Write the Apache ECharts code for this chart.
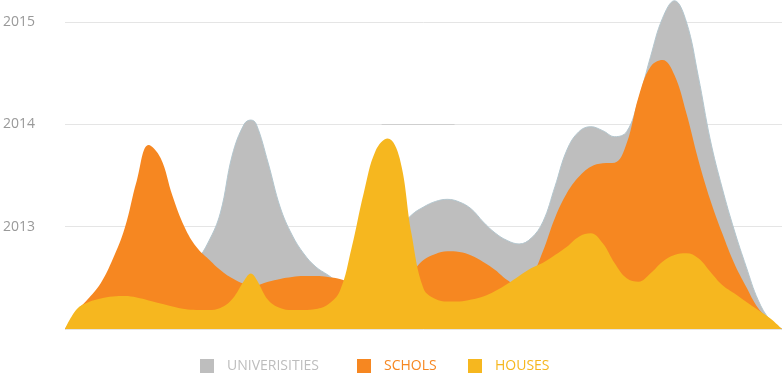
<!DOCTYPE html>
<html>
<head>
<meta charset="utf-8">
<script src="https://cdn.jsdelivr.net/npm/echarts@6/dist/echarts.min.js"></script>
<style>
html,body{margin:0;padding:0;background:#fff;}
#chart{width:782px;height:374px;}
</style>
</head>
<body>
<div id="chart"></div>
<script>
// ---- data ----
var seriesNames = ['UNIVERISITIES', 'SCHOLS', 'HOUSES'];
var yTicks = [2013, 2014, 2015];

// shared x positions (time steps)
var xs = [0,1,2,3,4,5,6,7,8,9,10,11,12,13,14,15,15.55,16,17,18,19,20,21,22,23,24,25,26,27,28,29,30,31,32,33,34,35,36,37,38,39,40,41,42,43,44,45,46,47,48,49,50,51,52,53,54,55,56,57,58,59,60];

var universities = [2012,2012.068,2012.127,2012.186,2012.244,2012.303,2012.362,2012.420,2012.479,2012.537,2012.606,2012.674,2012.850,2013.134,2013.700,2014.003,2014.042,2014.003,2013.622,2013.192,2012.919,2012.733,2012.606,2012.528,2012.450,2012.401,2012.459,2012.616,2012.801,2012.977,2013.114,2013.192,2013.246,2013.267,2013.241,2013.173,2013.046,2012.938,2012.865,2012.831,2012.886,2013.049,2013.391,2013.749,2013.928,2013.977,2013.938,2013.879,2013.928,2014.238,2014.661,2015.036,2015.208,2015.000,2014.466,2013.847,2013.375,2012.967,2012.609,2012.283,2012.088,2012];

var schools = [2012,2012.176,2012.303,2012.450,2012.684,2012.987,2013.446,2013.798,2013.671,2013.300,2012.997,2012.801,2012.684,2012.577,2012.495,2012.440,2012.430,2012.430,2012.462,2012.489,2012.508,2012.518,2012.518,2012.508,2012.489,2012.450,2012.420,2012.410,2012.430,2012.479,2012.557,2012.674,2012.733,2012.759,2012.752,2012.718,2012.655,2012.577,2012.479,2012.420,2012.508,2012.762,2013.085,2013.329,2013.488,2013.586,2013.619,2013.625,2013.815,2014.270,2014.563,2014.629,2014.482,2014.108,2013.652,2013.261,2012.935,2012.642,2012.413,2012.205,2012.088,2012];

var houses = [2012,2012.195,2012.264,2012.298,2012.318,2012.322,2012.308,2012.279,2012.249,2012.220,2012.195,2012.186,2012.186,2012.205,2012.293,2012.474,2012.542,2012.489,2012.283,2012.205,2012.186,2012.186,2012.195,2012.239,2012.371,2012.801,2013.329,2013.744,2013.862,2013.671,2012.928,2012.396,2012.293,2012.269,2012.269,2012.288,2012.318,2012.371,2012.440,2012.518,2012.593,2012.648,2012.723,2012.804,2012.902,2012.935,2012.837,2012.642,2012.495,2012.462,2012.544,2012.658,2012.723,2012.740,2012.691,2012.560,2012.430,2012.349,2012.267,2012.186,2012.105,2012];

var markSeg = [[26.5, 2014], [32.6, 2014]];

var colors = ['#bebebe', '#f68721', '#f6b71f'];
var textColors = ['#bdbdbd', '#f68721', '#f6b71f'];

function zip(x, y) { return x.map(function (v, i) { return [v, y[i]]; }); }

var chart = echarts.init(document.getElementById('chart'), null, {renderer: 'canvas'});

var legendLefts = [200, 357, 468];
var legends = seriesNames.map(function (n, i) {
  return {
    left: legendLefts[i], top: 359, padding: 0,
    icon: 'rect', itemWidth: 14, itemHeight: 14,
    selectedMode: false,
    data: [{name: n, itemStyle: {color: colors[i]}, textStyle: {color: textColors[i]}}],
    textStyle: {fontFamily: 'Open Sans', fontSize: 14, padding: [0, 0, 0, 8]}
  };
});

var smoothness = 0.4;

chart.setOption({
  animation: false,
  backgroundColor: '#fff',
  grid: {left: 62, right: 0, top: 22, bottom: 45},
  legend: legends,
  xAxis: {type: 'value', min: 0, max: 60, show: false},
  yAxis: {
    type: 'value', min: 2012, max: 2015, interval: 1,
    axisLine: {show: false}, axisTick: {show: false},
    splitLine: {lineStyle: {color: '#e5e5e5', width: 1}},
    axisLabel: {
      showMinLabel: false, align: 'left', margin: 62,
      color: '#999', fontFamily: 'Open Sans', fontSize: 14,
      formatter: function (v) { return yTicks.indexOf(v) >= 0 ? String(v) : ''; }
    }
  },
  series: [
    {
      name: seriesNames[0], type: 'line', smooth: smoothness, symbol: 'none', clip: false, z: 2,
      data: zip(xs, universities),
      lineStyle: {color: '#b3c6ce', width: 1},
      itemStyle: {color: colors[0]},
      areaStyle: {color: colors[0], opacity: 1}
    },
    {
      name: seriesNames[1], type: 'line', smooth: smoothness, symbol: 'none', clip: false, z: 3,
      data: zip(xs, schools),
      lineStyle: {width: 0},
      itemStyle: {color: colors[1]},
      areaStyle: {color: colors[1], opacity: 1}
    },
    {
      name: seriesNames[2], type: 'line', smooth: smoothness, symbol: 'none', clip: false, z: 4,
      data: zip(xs, houses),
      lineStyle: {width: 0},
      itemStyle: {color: colors[2]},
      areaStyle: {color: colors[2], opacity: 1},
      markLine: {
        silent: true, symbol: 'none', label: {show: false},
        lineStyle: {color: '#cfcfcf', width: 1, type: 'solid'},
        data: [[{coord: markSeg[0]}, {coord: markSeg[1]}]]
      }
    }
  ]
});
</script>
</body>
</html>
